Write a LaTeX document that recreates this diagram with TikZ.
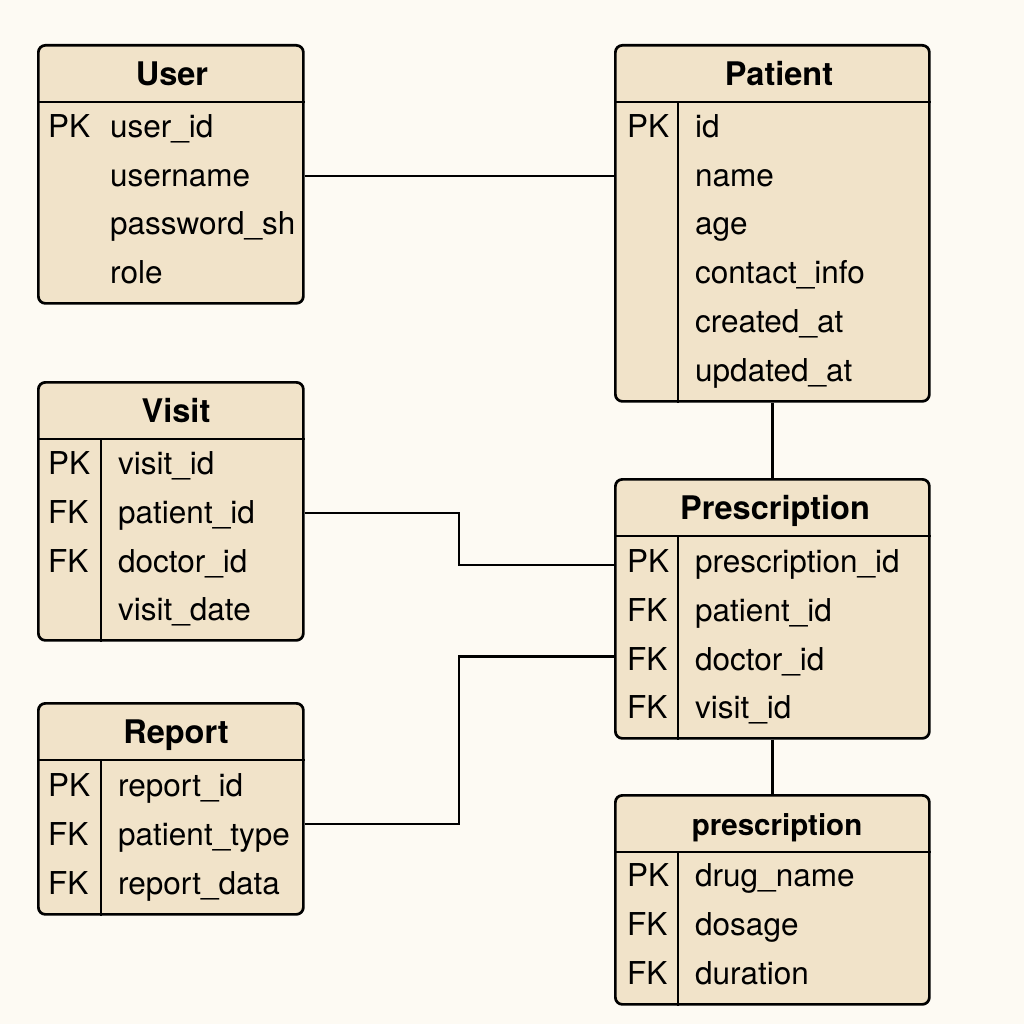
\documentclass[tikz,border=0pt]{standalone}
\usepackage{fontspec}
\setmainfont{TeX Gyre Heros}
\usepackage{xcolor}
\usepackage{tikz}
\usetikzlibrary{positioning}

\definecolor{paper}{HTML}{FDFAF3}
\definecolor{tablefill}{HTML}{F1E3C9}

\tikzset{
    table/.style={draw, line width=2.7pt, fill=tablefill, rounded corners=7pt,
        anchor=north west, inner sep=0pt},
    title/.style={font=\fontsize{32.5}{32.5}\selectfont\bfseries, inner sep=0pt,
        text height=23pt, text depth=0pt},
    keycol/.style={font=\fontsize{31.5}{31.5}\selectfont, anchor=west, inner sep=0pt,
        text height=21pt, text depth=0pt},
    fieldcol/.style={keycol},
    rule/.style={line width=2.7pt},
    link/.style={line width=2.3pt}
}

\begin{document}
\begin{tikzpicture}[x=1pt,y=-1pt]
            \useasboundingbox[fill=paper] (0,0) rectangle (1024,1024);

            % tables
            \node[table, minimum width=265pt, minimum height=258pt] (user) at (37,44) {};
            \node[table, minimum width=314pt, minimum height=356pt] (patient) at (614,44) {};
            \node[table, minimum width=265pt, minimum height=258pt] (visit) at (37,381) {};
            \node[table, minimum width=314pt, minimum height=259pt] (presc) at (614,478) {};
            \node[table, minimum width=265pt, minimum height=211pt] (report) at (37,702) {};
            \node[table, minimum width=314pt, minimum height=209pt] (drug) at (614,794) {};

            % header rules and key columns
            \draw[rule] ([yshift=-58pt]user.north west) -- ([yshift=-58pt]user.north east);
            \foreach \t in {patient, visit, presc, report, drug} {
                \draw[rule] ([yshift=-58pt]\t.north west) -- ([yshift=-58pt]\t.north east);
                \draw[rule] ([xshift=64pt,yshift=-58pt]\t.north west) -- ([xshift=64pt]\t.south west);
            }

            % titles
            \node[title] at (172,74) {User};
            \node[title] at (779,74) {Patient};
            \node[title] at (176,411) {Visit};
            \node[title] at (775,508) {Prescription};
            \node[title, font=\fontsize{29.5}{29.5}\selectfont\bfseries, text height=22pt] at (777,824) {prescription};
            \node[title] at (176,732) {Report};

            % fields
            \foreach \k/\f [count=\i from 0] in {PK/user\_id, /username, /password\_sh, /role} {
                \node[keycol] at (48,127+48.75*\i) {\k};
                \node[fieldcol] (user-\i) at (110,127+48.75*\i) {\f};
            }
            \foreach \k/\f [count=\i from 0] in {PK/id, /name, /age, /contact\_info, /created\_at, /updated\_at} {
                \node[keycol] at (627,127+48.75*\i) {\k};
                \node[fieldcol] (patient-\i) at (695,127+48.75*\i) {\f};
            }
            \foreach \k/\f [count=\i from 0] in {PK/visit\_id, FK/patient\_id, FK/doctor\_id, /visit\_date} {
                \node[keycol] at (48,464+48.75*\i) {\k};
                \node[fieldcol] (visit-\i) at (118,464+48.75*\i) {\f};
            }
            \foreach \k/\f [count=\i from 0] in {PK/prescription\_id, FK/patient\_id, FK/doctor\_id, FK/visit\_id} {
                \node[keycol] at (627,562+48.75*\i) {\k};
                \node[fieldcol] (presc-\i) at (695,562+48.75*\i) {\f};
            }
            \foreach \k/\f [count=\i from 0] in {PK/report\_id, FK/patient\_type, FK/report\_data} {
                \node[keycol] at (48,786+48.75*\i) {\k};
                \node[fieldcol] (report-\i) at (118,786+48.75*\i) {\f};
            }
            \foreach \k/\f [count=\i from 0] in {PK/drug\_name, FK/dosage, FK/duration} {
                \node[keycol] at (627,876+48.75*\i) {\k};
                \node[fieldcol] (drug-\i) at (695,876+48.75*\i) {\f};
            }

            % relations
            \draw[link] (user.east |- user-1) -- (patient.west |- user-1);
            \draw[link] (patient.south) -- (presc.north);
            \draw[link] (visit.east |- visit-1) -- ++(154,0) |- ([yshift=-3pt]presc.west |- presc-0);
            \draw[link] ([yshift=11pt]report.east |- report-1) -- ++(154,0) |- ([yshift=3pt]presc.west |- presc-2);
            \draw[link] (presc.south) -- (drug.north);
        \end{tikzpicture}
\end{document}
